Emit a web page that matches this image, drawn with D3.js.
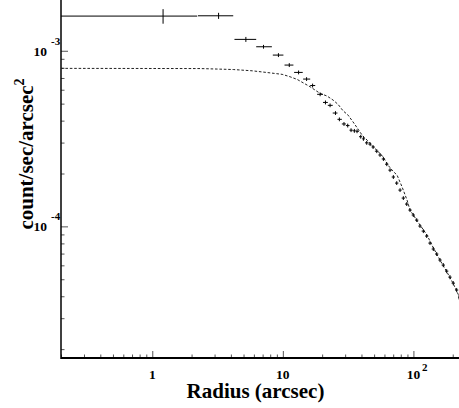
<!DOCTYPE html>
<html>
<head>
<meta charset="utf-8">
<script src="https://cdn.jsdelivr.net/npm/d3@7"></script>
<style>
  body { margin: 0; background: #fff }
  svg text { font-family: "Liberation Serif", "Times New Roman", serif; font-weight: bold; fill: #000 }
</style>
</head>
<body>
<svg id="chart" width="459" height="408"></svg>
<script>
// radial profile: bin centre, bin edges (arcsec), surface brightness and 1-sigma error
var radius = [1.21, 3.22, 5.21, 7.11, 9.25, 11.2, 13.2, 15.2, 16.9, 19.3,
  21.2, 23.0, 25.3, 27.1, 29.4, 31.4, 33.3, 35.3, 37.0, 39.5,
  41.4, 43.9, 46.6, 49.1, 52.4, 55.5, 58.9, 62.5, 66.2, 70.2,
  74.5, 79.0, 83.7, 88.9, 94.2, 99.8, 106.0, 112.3, 119.1, 126.4,
  134.0, 142.0, 150.8, 159.8, 169.3, 179.8, 190.5, 201.9, 214.5, 227.0]
var radiusLo = [0.1, 2.24, 4.26, 6.25, 8.38, 10.3, 12.2, 14.3, 16.2, 18.3,
  20.3, 22.1, 24.1, 26.2, 28.3, 30.4, 32.4, 34.3, 36.2, 38.3,
  40.5, 42.6, 45.2, 47.8, 50.7, 53.9, 57.2, 60.6, 64.3, 68.2,
  72.3, 76.7, 81.3, 86.2, 91.5, 97.0, 102.8, 109.1, 115.6, 122.7,
  130.1, 138.0, 146.3, 155.2, 164.5, 174.5, 185.1, 196.1, 208.1, 220.5]
var radiusHi = [2.21, 4.17, 6.25, 8.24, 10.1, 12.05, 14.2, 16.2, 17.7, 20.3,
  22.1, 24.1, 26.2, 28.3, 30.4, 32.4, 34.3, 36.2, 38.3, 40.5,
  42.6, 45.2, 47.8, 50.7, 53.9, 57.2, 60.6, 64.3, 68.2, 72.3,
  76.7, 81.3, 86.2, 91.5, 97.0, 102.8, 109.1, 115.6, 122.7, 130.1,
  138.0, 146.3, 155.2, 164.5, 174.5, 185.1, 196.1, 208.1, 220.5, 233.0]
var brightness = [1.576e-3, 1.582e-3, 1.161e-3, 1.054e-3, 9.45e-4, 8.29e-4, 7.53e-4, 6.90e-4, 6.34e-4, 5.65e-4,
  5.08e-4, 4.89e-4, 4.42e-4, 4.07e-4, 3.83e-4, 3.75e-4, 3.53e-4, 3.50e-4, 3.48e-4, 3.24e-4,
  3.15e-4, 2.99e-4, 2.94e-4, 2.83e-4, 2.68e-4, 2.55e-4, 2.42e-4, 2.26e-4, 2.09e-4, 1.91e-4,
  1.764e-4, 1.609e-4, 1.449e-4, 1.340e-4, 1.238e-4, 1.160e-4, 1.086e-4, 1.004e-4, 9.40e-5, 8.81e-5,
  8.03e-5, 7.43e-5, 6.96e-5, 6.43e-5, 6.02e-5, 5.56e-5, 5.14e-5, 4.75e-5, 4.34e-5, 3.95e-5]
var brightnessErr = [1.5e-4, 6.3e-5, 3.8e-5, 2.6e-5, 2.4e-5, 2.1e-5, 1.9e-5, 1.7e-5, 1.6e-5, 1.4e-5,
  1.3e-5, 1.2e-5, 1.1e-5, 1.0e-5, 9.6e-6, 9.4e-6, 8.8e-6, 8.8e-6, 8.7e-6, 8.1e-6,
  7.9e-6, 7.5e-6, 7.4e-6, 7.1e-6, 6.7e-6, 6.4e-6, 6.1e-6, 5.7e-6, 5.2e-6, 4.8e-6,
  4.4e-6, 4.0e-6, 3.6e-6, 3.4e-6, 3.1e-6, 2.9e-6, 2.7e-6, 2.5e-6, 2.4e-6, 2.2e-6,
  2.0e-6, 1.9e-6, 1.8e-6, 1.7e-6, 1.6e-6, 1.5e-6, 1.4e-6, 1.3e-6, 1.2e-6, 1.1e-6]

// model profile (dotted)
var modelRadius = [0.2, 2.33, 4.17, 5.82, 7.45, 9.88, 11.37, 12.87, 14.30, 16.18,
  17.67, 19.29, 21.83, 24.25, 26.49, 28.93, 31.60, 34.51, 37.69, 40.45,
  44.95, 49.09, 53.6, 58.54, 63.93, 69.82, 74.90, 81.81, 89.35, 94.19,
  108.4, 127.1, 141.2, 159.8, 180.7, 200.9, 223.4]
var modelBrightness = [7.94e-4, 7.92e-4, 7.82e-4, 7.69e-4, 7.53e-4, 7.34e-4, 7.11e-4, 6.87e-4, 6.57e-4, 6.24e-4,
  5.97e-4, 5.72e-4, 5.52e-4, 5.24e-4, 4.95e-4, 4.55e-4, 4.30e-4, 3.93e-4, 3.58e-4, 3.31e-4,
  3.06e-4, 2.84e-4, 2.67e-4, 2.49e-4, 2.23e-4, 2.06e-4, 1.96e-4, 1.68e-4, 1.412e-4, 1.238e-4,
  1.058e-4, 8.92e-5, 7.62e-5, 6.43e-5, 5.49e-5, 4.75e-5, 4.01e-5]

var xMajor = [1, 10, 100]
var xMinor = [0.2, 0.3, 0.4, 0.5, 0.6, 0.7, 0.8, 0.9, 2, 3, 4, 5, 6, 7, 8, 9,
  20, 30, 40, 50, 60, 70, 80, 90, 200]
var yMajor = [1e-4, 1e-3]
var yMinor = [2e-5, 3e-5, 4e-5, 5e-5, 6e-5, 7e-5, 8e-5, 9e-5,
  2e-4, 3e-4, 4e-4, 5e-4, 6e-4, 7e-4, 8e-4, 9e-4]
var xLabels = [["1", ""], ["10", ""], ["10", "2"]]
var yLabels = [["10", "-4"], ["10", "-3"]]

var plotLeft = 61, plotRight = 459, plotTop = 0, plotBottom = 358
var svg = d3.select("#chart")

var x = d3.scaleLog().domain([0.2, 223.4]).range([plotLeft, plotRight]).clamp(true)
var y = d3.scaleLog().domain([1.78e-5, 1.946e-3]).range([plotBottom, plotTop])

svg.append("defs").append("clipPath").attr("id", "plot")
   .append("rect").attr("x", plotLeft).attr("y", plotTop)
   .attr("width", plotRight - plotLeft).attr("height", plotBottom - plotTop)

// ticks point inward
function ticks(axis, pos) {
  var g = svg.append("g").attr("transform", pos).call(axis)
  g.select(".domain").remove()
  g.selectAll("line").attr("stroke", "#555").attr("stroke-width", 1)
  g.selectAll("text").remove()
}
ticks(d3.axisBottom(x).tickValues(xMinor).tickSize(-3.5), "translate(0," + plotBottom + ")")
ticks(d3.axisBottom(x).tickValues(xMajor).tickSize(-7), "translate(0," + plotBottom + ")")
ticks(d3.axisLeft(y).tickValues(yMinor).tickSize(-3.5), "translate(" + plotLeft + ",0)")
ticks(d3.axisLeft(y).tickValues(yMajor).tickSize(-7), "translate(" + plotLeft + ",0)")

svg.append("line").attr("x1", plotLeft).attr("x2", plotRight)
   .attr("y1", plotBottom).attr("y2", plotBottom)
   .attr("stroke", "#000").attr("stroke-width", 2)
svg.append("line").attr("x1", plotLeft).attr("x2", plotLeft)
   .attr("y1", plotTop).attr("y2", plotBottom + 1)
   .attr("stroke", "#000").attr("stroke-width", 1.5)

// tick labels
xMajor.forEach(function(v, i) {
  svg.append("text").attr("x", x(v)).attr("y", 379).attr("text-anchor", "middle")
     .style("font-size", "13.5px").text(xLabels[i][0])
  if (xLabels[i][1]) {
    svg.append("text").attr("x", x(v) + 8.5).attr("y", 371)
       .style("font-size", "11px").text(xLabels[i][1])
  }
})
yMajor.forEach(function(v, i) {
  svg.append("text").attr("x", 47).attr("y", y(v) + 5).attr("text-anchor", "end")
     .style("font-size", "13.5px").text(yLabels[i][0])
  svg.append("text").attr("x", 51).attr("y", y(v) - 6)
     .style("font-size", "11px").text(yLabels[i][1])
})

// axis titles
svg.append("text").attr("x", 255.5).attr("y", 398).attr("text-anchor", "middle")
   .style("font-size", "21px").text("Radius (arcsec)")
var yt = svg.append("text").attr("transform", "translate(33,154) rotate(-90)")
   .attr("text-anchor", "middle").style("font-size", "21px")
yt.append("tspan").text("count/sec/arcsec")
yt.append("tspan").attr("dy", -9).style("font-size", "14px").text("2")

var plot = svg.append("g").attr("clip-path", "url(#plot)")

// model
var line = d3.line()
  .x(function(d, i) { return x(modelRadius[i]) })
  .y(function(d) { return y(d) })
plot.append("path").datum(modelBrightness).attr("d", line)
    .attr("fill", "none").attr("stroke", "#222").attr("stroke-width", 1)
    .attr("stroke-dasharray", "2.6,1.8")

// data crosses
var pts = plot.selectAll(".pt").data(brightness).enter().append("g").attr("class", "pt")
pts.append("line")
   .attr("x1", function(d, i) { return x(radiusLo[i]) })
   .attr("x2", function(d, i) { return x(radiusHi[i]) })
   .attr("y1", function(d) { return y(d) })
   .attr("y2", function(d) { return y(d) })
   .attr("stroke", "#000").attr("stroke-width", 1)
pts.append("line")
   .attr("x1", function(d, i) { return x(radius[i]) })
   .attr("x2", function(d, i) { return x(radius[i]) })
   .attr("y1", function(d, i) { return y(d - brightnessErr[i]) })
   .attr("y2", function(d, i) { return y(d + brightnessErr[i]) })
   .attr("stroke", "#000").attr("stroke-width", 1)
</script>
</body>
</html>
